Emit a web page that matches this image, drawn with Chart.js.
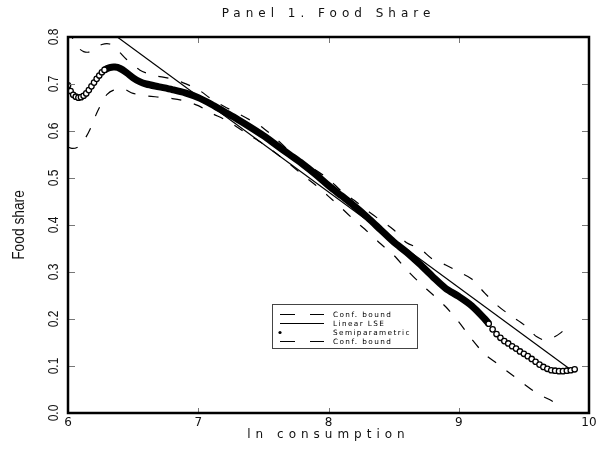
<!DOCTYPE html>
<html lang="en">
<head>
<meta charset="UTF-8" />
<title>Panel 1. Food Share</title>
<script src="https://cdn.jsdelivr.net/npm/chart.js"></script>
<style>
    html, body {
        margin: 0;
        padding: 0;
        background: #fff;
    }
</style>
</head>
<body>
<canvas id="foodChart" width="602" height="459"></canvas>
<script>
    // tick values
    const xTickValues = [6, 7, 8, 9, 10];
    const yTickValues = [0, 0.1, 0.2, 0.3, 0.4, 0.5, 0.6, 0.7, 0.8];

    // semiparametric estimate
    const semiX = [6.00, 6.02, 6.04, 6.06, 6.08, 6.10, 6.12, 6.14, 6.16, 6.18, 6.20, 6.22, 6.24, 6.26, 6.28,
        6.32, 6.36, 6.40, 6.45, 6.50, 6.55, 6.60, 6.70, 6.80, 6.90, 7.00, 7.10, 7.20, 7.30, 7.40, 7.50,
        7.60, 7.70, 7.80, 7.90, 8.00, 8.10, 8.20, 8.30, 8.40, 8.50, 8.60, 8.70, 8.80, 8.90, 9.00, 9.10, 9.20,
        9.23, 9.26, 9.29, 9.32, 9.35, 9.38, 9.41, 9.44, 9.47, 9.50, 9.53, 9.56, 9.59, 9.62, 9.65, 9.68,
        9.71, 9.74, 9.77, 9.80, 9.83, 9.86, 9.89];
    const semiY = [0.697, 0.685, 0.677, 0.673, 0.671, 0.672, 0.675, 0.680, 0.687, 0.695, 0.703, 0.711, 0.718, 0.725, 0.730,
        0.735, 0.736, 0.733, 0.724, 0.713, 0.705, 0.700, 0.694, 0.688, 0.681, 0.671, 0.657, 0.641, 0.625, 0.608, 0.590,
        0.570, 0.550, 0.530, 0.508, 0.484, 0.462, 0.440, 0.416, 0.390, 0.364, 0.342, 0.317, 0.290, 0.265, 0.248, 0.228, 0.200,
        0.190, 0.178, 0.168, 0.160, 0.153, 0.148, 0.142, 0.137, 0.131, 0.126, 0.121, 0.115, 0.109, 0.103, 0.098, 0.094,
        0.091, 0.090, 0.089, 0.089, 0.090, 0.091, 0.093];

    // linear LSE
    const lseX = [6.00, 9.85];
    const lseY = [0.877, 0.094];

    // upper confidence bound
    const upperX = [6.00, 6.04, 6.08, 6.12, 6.16, 6.20, 6.26, 6.32, 6.38, 6.45, 6.55, 6.65, 6.78, 6.88, 7.00,
        7.10, 7.20, 7.30, 7.40, 7.50, 7.60, 7.70, 7.80, 7.90, 8.00, 8.10, 8.20, 8.30, 8.40, 8.50, 8.60,
        8.70, 8.80, 8.90, 9.00, 9.10, 9.20, 9.30, 9.40, 9.50, 9.55, 9.60, 9.66, 9.72, 9.78, 9.85];
    const upperY = [0.815, 0.795, 0.777, 0.769, 0.768, 0.774, 0.784, 0.785, 0.772, 0.752, 0.730, 0.719, 0.712, 0.703, 0.688,
        0.668, 0.652, 0.638, 0.623, 0.606, 0.583, 0.557, 0.535, 0.517, 0.498, 0.472, 0.452, 0.430, 0.410, 0.390, 0.362,
        0.350, 0.327, 0.315, 0.300, 0.285, 0.255, 0.228, 0.207, 0.188, 0.175, 0.162, 0.155, 0.160, 0.170, 0.188];

    // lower confidence bound
    const lowerX = [6.00, 6.03, 6.07, 6.10, 6.14, 6.18, 6.22, 6.26, 6.30, 6.35, 6.42, 6.50, 6.60, 6.70, 6.80, 6.88,
        7.00, 7.10, 7.20, 7.30, 7.40, 7.50, 7.60, 7.70, 7.80, 7.90, 8.00, 8.10, 8.20, 8.30, 8.40, 8.50,
        8.60, 8.70, 8.80, 8.90, 9.00, 9.10, 9.20, 9.30, 9.40, 9.50, 9.60, 9.70, 9.80];
    const lowerY = [0.566, 0.563, 0.565, 0.573, 0.588, 0.610, 0.638, 0.660, 0.678, 0.687, 0.690, 0.680, 0.675, 0.672, 0.669, 0.665,
        0.654, 0.638, 0.625, 0.608, 0.590, 0.572, 0.552, 0.530, 0.507, 0.485, 0.461, 0.436, 0.410, 0.386, 0.360, 0.336,
        0.305, 0.277, 0.252, 0.226, 0.194, 0.157, 0.125, 0.104, 0.083, 0.062, 0.042, 0.028, 0.012];

    const toPoints = (xs, ys) => xs.map((x, i) => ({ x: x, y: ys[i] }));

    // circles at the sparse ends, solid band where the estimate is dense
    const isSparse = x => x < 6.3 || x > 9.21;

    // legend rows in the order the reference lists them
    const legendOrder = [0, 1, 2, 3];

    const textPlugin = {
        id: 'textAndFrame',
        beforeDraw(chart) {
            chart.ctx.letterSpacing = '5px';
        },
        afterDatasetsDraw(chart) {
            chart.ctx.letterSpacing = '0px';
        },
        afterDraw(chart) {
            const ctx = chart.ctx;
            const area = chart.chartArea;
            const xs = chart.scales.x;
            const ys = chart.scales.y;
            ctx.save();

            // inner tick marks on all four sides
            ctx.strokeStyle = '#777';
            ctx.lineWidth = 1;
            ctx.beginPath();
            yTickValues.forEach(v => {
                const py = Math.round(ys.getPixelForValue(v)) + 0.5;
                ctx.moveTo(area.left, py);
                ctx.lineTo(area.left + 7, py);
                ctx.moveTo(area.right, py);
                ctx.lineTo(area.right - 7, py);
            });
            xTickValues.forEach(v => {
                const px = Math.round(xs.getPixelForValue(v)) + 0.5;
                ctx.moveTo(px, area.bottom);
                ctx.lineTo(px, area.bottom - 5);
                ctx.moveTo(px, area.top);
                ctx.lineTo(px, area.top + 6);
            });
            ctx.stroke();

            // frame
            ctx.strokeStyle = '#000';
            ctx.lineWidth = 2.5;
            ctx.strokeRect(area.left, area.top, area.right - area.left, area.bottom - area.top);

            // y tick labels, rotated and condensed
            ctx.letterSpacing = '0px';
            ctx.fillStyle = '#111';
            ctx.font = '15px "Liberation Sans"';
            ctx.textAlign = 'center';
            ctx.textBaseline = 'middle';
            yTickValues.forEach(v => {
                const py = ys.getPixelForValue(v);
                ctx.save();
                ctx.translate(area.left - 14, py);
                ctx.rotate(-Math.PI / 2);
                ctx.scale(0.8, 1);
                ctx.fillText(v.toFixed(1), 0, 0);
                ctx.restore();
            });

            // y axis title
            ctx.font = '16px "Liberation Sans"';
            ctx.save();
            ctx.translate(19.5, (area.top + area.bottom) / 2);
            ctx.rotate(-Math.PI / 2);
            ctx.scale(0.86, 1);
            ctx.fillText('Food share', 0, 0);
            ctx.restore();

            // legend box
            const bx = area.left + 204;
            const by = area.top + 267;
            const bw = 145;
            const bh = 44;
            ctx.fillStyle = '#fff';
            ctx.fillRect(bx, by, bw, bh);
            ctx.strokeStyle = '#444';
            ctx.lineWidth = 1;
            ctx.strokeRect(bx + 0.5, by + 0.5, bw, bh);

            ctx.font = '7.3px "DejaVu Sans"';
            ctx.letterSpacing = '1.4px';
            ctx.textAlign = 'left';
            legendOrder.forEach((idx, row) => {
                const ds = chart.data.datasets[idx];
                const ry = by + 10.5 + row * 9;
                ctx.strokeStyle = '#000';
                ctx.fillStyle = '#000';
                if (ds.showInLegendAsDot) {
                    ctx.beginPath();
                    ctx.arc(bx + 8, ry, 1.6, 0, Math.PI * 2);
                    ctx.fill();
                } else {
                    ctx.lineWidth = 1;
                    ctx.setLineDash(ds.borderDash ? [15, 15] : []);
                    ctx.beginPath();
                    ctx.moveTo(bx + 8, ry);
                    ctx.lineTo(bx + 52, ry);
                    ctx.stroke();
                    ctx.setLineDash([]);
                }
                ctx.fillText(ds.label, bx + 61, ry + 0.5);
            });

            ctx.restore();
        }
    };

    const ctx = document.getElementById('foodChart').getContext('2d');

    const chart = new Chart(ctx, {
        type: 'line',
        data: {
            datasets: [
                {
                    label: 'Conf. bound',
                    data: toPoints(upperX, upperY),
                    borderColor: '#000',
                    borderWidth: 1.2,
                    borderDash: [10, 13],
                    pointRadius: 0,
                    tension: 0.3,
                    clip: 0
                },
                {
                    label: 'Linear LSE',
                    data: toPoints(lseX, lseY),
                    borderColor: '#000',
                    borderWidth: 1.2,
                    pointRadius: 0,
                    clip: 0
                },
                {
                    label: 'Semiparametric',
                    showInLegendAsDot: true,
                    data: toPoints(semiX, semiY),
                    borderColor: '#000',
                    borderWidth: 7,
                    tension: 0.3,
                    pointRadius: c => (c.raw && isSparse(c.raw.x)) ? 2.7 : 0,
                    pointBackgroundColor: '#fff',
                    pointBorderColor: '#000',
                    pointBorderWidth: 1.3,
                    segment: {
                        borderColor: c => (isSparse(c.p0.parsed.x) && isSparse(c.p1.parsed.x)) ? 'rgba(0,0,0,0)' : '#000'
                    }
                },
                {
                    label: 'Conf. bound',
                    data: toPoints(lowerX, lowerY),
                    borderColor: '#000',
                    borderWidth: 1.2,
                    borderDash: [10, 13],
                    pointRadius: 0,
                    tension: 0.3,
                    clip: 0
                }
            ]
        },
        options: {
            responsive: false,
            animation: false,
            layout: {
                padding: { top: 0, right: 13, bottom: 0, left: 0 }
            },
            plugins: {
                legend: { display: false },
                tooltip: { enabled: false },
                title: {
                    display: true,
                    fullSize: false,
                    text: 'Panel 1. Food Share',
                    color: '#111',
                    font: { family: 'DejaVu Sans', size: 12, weight: 'normal' },
                    padding: { top: 7, bottom: 15.6 }
                }
            },
            scales: {
                x: {
                    type: 'linear',
                    min: 6,
                    max: 10,
                    afterBuildTicks: axis => { axis.ticks = xTickValues.map(v => ({ value: v })); },
                    afterFit: axis => { axis.height = 46; },
                    grid: { display: false, drawTicks: false },
                    border: { display: false },
                    ticks: {
                        z: 1,
                        padding: 3,
                        color: '#111',
                        maxRotation: 0,
                        autoSkip: false,
                        font: { family: 'DejaVu Sans', size: 12 }
                    },
                    title: {
                        display: true,
                        text: 'ln consumption',
                        color: '#111',
                        font: { family: 'DejaVu Sans', size: 12 },
                        padding: { top: 0, bottom: 16.8 }
                    }
                },
                y: {
                    type: 'linear',
                    min: 0,
                    max: 0.8,
                    afterFit: axis => { axis.width = 68; },
                    grid: { display: false, drawTicks: false },
                    border: { display: false },
                    ticks: { display: false }
                }
            }
        },
        plugins: [textPlugin]
    });
</script>
</body>
</html>
